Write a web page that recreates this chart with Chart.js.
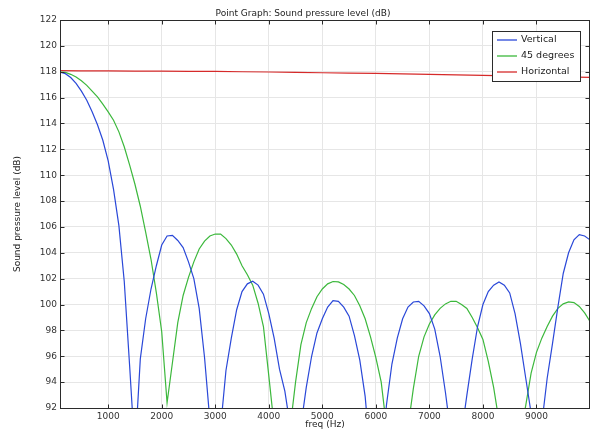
<!DOCTYPE html>
<html>
<head>
<meta charset="utf-8">
<script src="https://cdn.jsdelivr.net/npm/chart.js@4.4.1/dist/chart.umd.min.js"></script>
<style>
  html, body { margin: 0; padding: 0; background: #ffffff; }
  canvas { display: block; }
</style>
</head>
<body>
<canvas id="c" width="591" height="434"></canvas>
<script>
// ---------- data ----------
const titleText = 'Point Graph: Sound pressure level (dB)';
const xTitle = 'freq (Hz)';
const yTitle = 'Sound pressure level (dB)';
const seriesNames = ['Vertical', '45 degrees', 'Horizontal'];

const xTicks = [1000, 2000, 3000, 4000, 5000, 6000, 7000, 8000, 9000];
const yTicks = [92, 94, 96, 98, 100, 102, 104, 106, 108, 110, 112, 114, 116, 118, 120, 122];

const freq = [
  100, 200, 300, 400, 500, 600, 700, 800, 900, 1000,
  1100, 1200, 1300, 1400, 1500, 1600, 1700, 1800, 1900, 2000,
  2100, 2200, 2300, 2400, 2500, 2600, 2700, 2800, 2900, 3000,
  3100, 3200, 3300, 3400, 3500, 3600, 3700, 3800, 3900, 4000,
  4100, 4200, 4300, 4400, 4500, 4600, 4700, 4800, 4900, 5000,
  5100, 5200, 5300, 5400, 5500, 5600, 5700, 5800, 5900, 6000,
  6100, 6200, 6300, 6400, 6500, 6600, 6700, 6800, 6900, 7000,
  7100, 7200, 7300, 7400, 7500, 7600, 7700, 7800, 7900, 8000,
  8100, 8200, 8300, 8400, 8500, 8600, 8700, 8800, 8900, 9000,
  9100, 9200, 9300, 9400, 9500, 9600, 9700, 9800, 9900, 10000
];

const vertical = [
  117.96, 117.85, 117.55, 117.1, 116.5, 115.8, 114.9, 113.9, 112.7, 111.1,
  108.9, 106.1, 101.8, 95.3, 88.5, 95.8, 98.9, 101.2, 103.0, 104.6,
  105.3, 105.35, 104.95, 104.4, 103.3, 102.0, 99.7, 95.9, 91.0, 80,
  90.5, 94.9, 97.4, 99.6, 101.0, 101.6, 101.8, 101.5, 100.8, 99.3,
  97.4, 95.0, 93.3, 90.6, 80, 90.6, 93.6, 96.0, 97.8, 98.9,
  99.8, 100.3, 100.25, 99.8, 99.1, 97.6, 95.7, 92.9, 88.2, 80,
  88.2, 92.3, 95.4, 97.4, 98.9, 99.8, 100.2, 100.25, 99.9, 99.3,
  98.1, 96.0, 93.2, 90.0, 80, 90.0, 93.0, 95.8, 98.3, 100.0,
  101.0, 101.5, 101.75, 101.5, 100.9, 99.3, 97.0, 94.3, 91.6, 80,
  90.8, 94.3, 97.0, 99.8, 102.4, 104.0, 105.0, 105.4, 105.3, 105.0
];

const deg45 = [
  117.97, 117.95, 117.8, 117.6, 117.3, 116.95, 116.5, 116.05, 115.5, 114.9,
  114.25, 113.35, 112.2, 110.8, 109.3, 107.6, 105.6, 103.5, 100.9, 97.9,
  92.4, 95.5, 98.6, 100.7, 102.1, 103.3, 104.3, 104.9, 105.3, 105.45,
  105.45, 105.1, 104.6, 103.9, 103.0, 102.3, 101.5, 100.1, 98.3, 94.5,
  90.6, 85, 80, 90.5, 94.0, 96.9, 98.6, 99.7, 100.6, 101.2,
  101.6, 101.78, 101.75, 101.55, 101.2, 100.7, 99.9, 98.9, 97.5, 95.9,
  94.0, 90.5, 82, 78, 84, 90.5, 93.5, 96.0, 97.5, 98.5,
  99.2, 99.7, 100.05, 100.25, 100.25, 100.0, 99.7, 99.0, 98.2, 97.3,
  95.6, 93.6, 91.0, 84, 78, 84, 90.0, 92.2, 94.7, 96.3,
  97.4, 98.3, 99.1, 99.7, 100.05, 100.2, 100.15, 99.85, 99.35, 98.7
];

const freqH = [100, 500, 1000, 1500, 2000, 2500, 3000, 3500, 4000, 4500, 5000,
               5500, 6000, 6500, 7000, 7500, 8000, 8500, 9000, 9500, 10000];
const horizontal = [118.08, 118.07, 118.06, 118.05, 118.05, 118.03, 118.02, 118.0, 117.98, 117.95, 117.92,
                    117.9, 117.87, 117.84, 117.8, 117.76, 117.72, 117.68, 117.64, 117.6, 117.56];

const colors = ['#2a48d8', '#3cb83c', '#d62a2a'];

// ---------- chart ----------
const FONT = 'DejaVu Sans';
const frameColor = '#2b2b2b';

const toPts = (xs, ys) => xs.map((x, i) => ({ x: x, y: ys[i] }));

const framePlugin = {
  id: 'frameAndTicks',
  afterDatasetsDraw(chart) {
    const { ctx, chartArea: a, scales } = chart;
    ctx.save();
    ctx.strokeStyle = frameColor;
    ctx.lineWidth = 1;
    const L = Math.round(a.left) + 0.5, R = Math.round(a.right) - 0.5;
    const T = Math.round(a.top) + 0.5, B = Math.round(a.bottom) + 0.5;
    ctx.strokeRect(L, T, R - L, B - T);
    ctx.beginPath();
    scales.x.ticks.forEach(t => {
      const px = Math.round(scales.x.getPixelForValue(t.value)) + 0.5;
      ctx.moveTo(px, B); ctx.lineTo(px, B - 4);
      ctx.moveTo(px, T); ctx.lineTo(px, T + 4);
    });
    scales.y.ticks.forEach(t => {
      const py = Math.round(scales.y.getPixelForValue(t.value)) + 0.5;
      ctx.moveTo(L, py); ctx.lineTo(L + 4, py);
      ctx.moveTo(R, py); ctx.lineTo(R - 4, py);
    });
    ctx.stroke();
    ctx.restore();
  },
  afterDraw(chart) {
    const { ctx } = chart;
    ctx.save();
    // title
    ctx.fillStyle = '#222';
    ctx.font = '9px "' + FONT + '"';
    ctx.textAlign = 'center';
    ctx.textBaseline = 'middle';
    ctx.fillText(titleText, 303, 13.5);
    // legend
    const bx = 492.5, by = 31.5, bw = 88, bh = 50;
    ctx.fillStyle = '#ffffff';
    ctx.fillRect(bx, by, bw, bh);
    ctx.strokeStyle = frameColor;
    ctx.lineWidth = 1;
    ctx.strokeRect(bx, by, bw, bh);
    ctx.font = '9.5px "' + FONT + '"';
    ctx.textAlign = 'left';
    chart.data.datasets.forEach((ds, i) => {
      const y = 40 + i * 16;
      ctx.strokeStyle = ds.borderColor;
      ctx.lineWidth = 1.3;
      ctx.beginPath();
      ctx.moveTo(497, y); ctx.lineTo(517, y);
      ctx.stroke();
      ctx.fillStyle = '#222';
      ctx.fillText(ds.label, 521, y);
    });
    ctx.restore();
  }
};

new Chart(document.getElementById('c'), {
  type: 'line',
  data: {
    datasets: [
      { label: seriesNames[0], data: toPts(freq, vertical), borderColor: colors[0] },
      { label: seriesNames[1], data: toPts(freq, deg45), borderColor: colors[1] },
      { label: seriesNames[2], data: toPts(freqH, horizontal), borderColor: colors[2] }
    ].map(d => Object.assign(d, { borderWidth: 1.2, pointRadius: 0, fill: false, tension: 0 }))
  },
  options: {
    responsive: false,
    animation: false,
    devicePixelRatio: 1,
    layout: { padding: { top: 20, right: 1, left: 0, bottom: 0 } },
    plugins: { legend: { display: false }, title: { display: false }, tooltip: { enabled: false } },
    scales: {
      x: {
        type: 'linear', min: 100, max: 10000,
        afterBuildTicks: s => { s.ticks = xTicks.map(v => ({ value: v })); },
        afterFit: s => { s.height = 26; },
        grid: { color: '#e6e6e6', drawTicks: false },
        border: { display: false },
        ticks: { font: { family: FONT, size: 9 }, color: '#333', padding: 3, maxRotation: 0, autoSkip: false, callback: v => String(v) },
        title: { display: true, text: xTitle, font: { family: FONT, size: 9 }, color: '#222', padding: { top: 0, bottom: 3.6 } }
      },
      y: {
        type: 'linear', min: 92, max: 122,
        afterBuildTicks: s => { s.ticks = yTicks.map(v => ({ value: v })); },
        afterFit: s => { s.width = 60; },
        grid: { color: '#e6e6e6', drawTicks: false },
        border: { display: false },
        ticks: { font: { family: FONT, size: 9 }, color: '#333', padding: 3, autoSkip: false, callback: v => String(v) },
        title: { display: true, text: yTitle, font: { family: FONT, size: 9 }, color: '#222', padding: { top: 12.6, bottom: 0 } }
      }
    }
  },
  plugins: [framePlugin]
});
</script>
</body>
</html>
